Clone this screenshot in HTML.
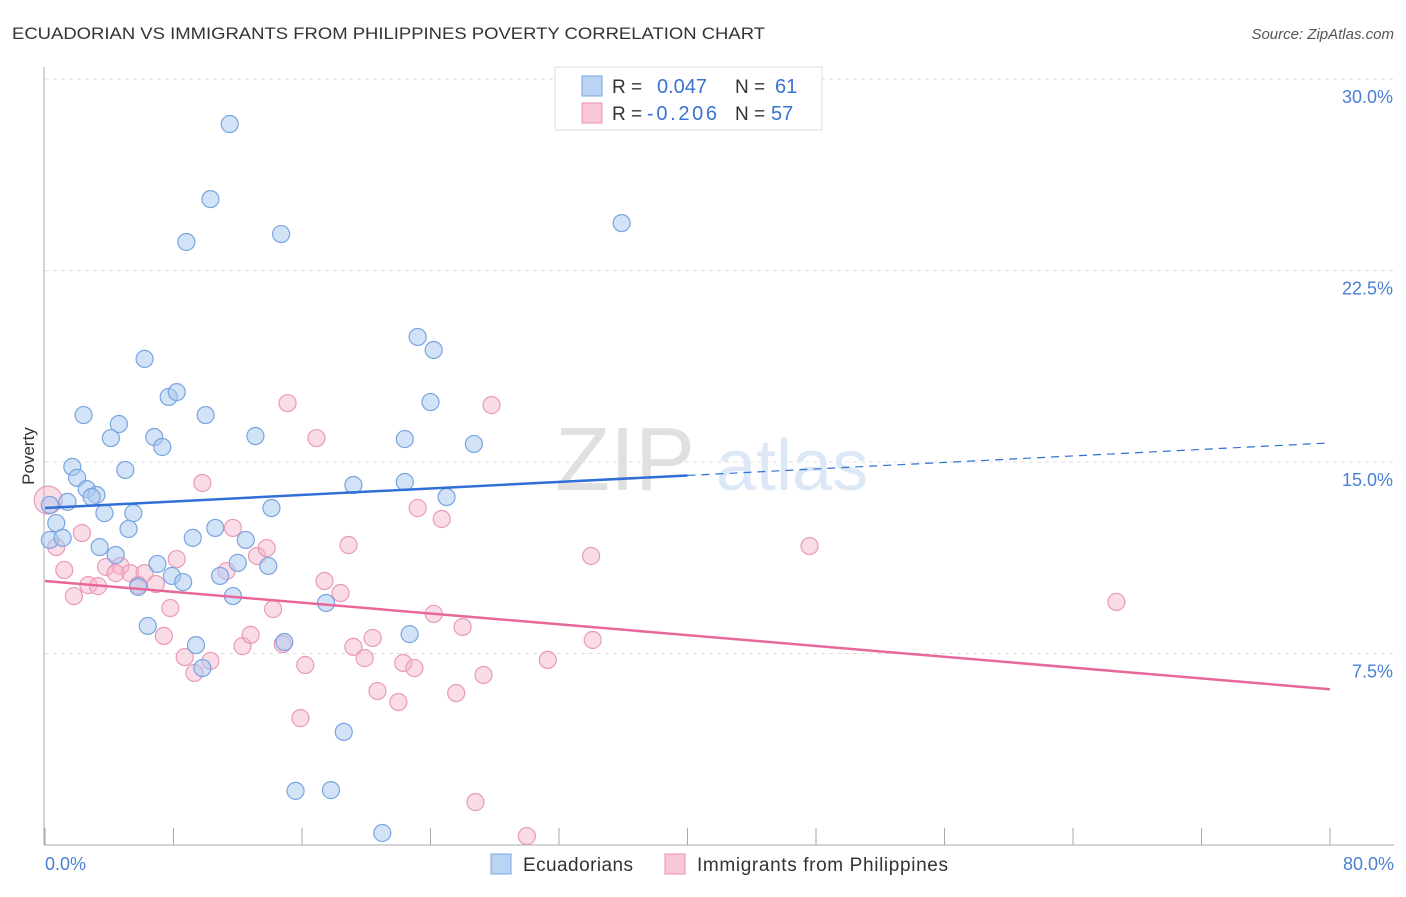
<!DOCTYPE html>
<html><head><meta charset="utf-8"><style>
body{margin:0;background:#fff;font-family:"Liberation Sans",sans-serif;}
svg text{font-family:"Liberation Sans",sans-serif;}
</style></head><body>
<svg id="chart" width="1406" height="892" xmlns="http://www.w3.org/2000/svg">
<text x="12" y="39" font-size="17" fill="#333" textLength="753" lengthAdjust="spacingAndGlyphs">ECUADORIAN VS IMMIGRANTS FROM PHILIPPINES POVERTY CORRELATION CHART</text>
<text x="1394" y="39" font-size="15" fill="#555" text-anchor="end" font-style="italic">Source: ZipAtlas.com</text>
<g id="grid"></g>
<g id="axes"></g>
<text x="555" y="490" font-size="90" fill="#e0e0e0" font-family="Liberation Serif">ZIP</text>
<text x="716" y="490" font-size="72" fill="#dde8f6">atlas</text>
<g id="pinkPts"></g>
<g id="bluePts"></g>
<g id="trends"></g>
<text x="34" y="456" font-size="17" fill="#333" text-anchor="middle" transform="rotate(-90 34 456)">Poverty</text>
<text x="45" y="870" font-size="18" fill="#4a7fd4">0.0%</text>
<text x="1394" y="870" font-size="18" fill="#4a7fd4" text-anchor="end">80.0%</text>
<g>
<rect x="555" y="67" width="267" height="63" fill="#fff" stroke="#ddd"/>
<rect x="582" y="76" width="20" height="20" fill="#bcd4f4" stroke="#7aa6e0"/>
<rect x="582" y="103" width="20" height="20" fill="#f8c8d8" stroke="#e890b0"/>
<text x="612" y="93" font-size="19" fill="#333">R = </text><text x="657" y="93" font-size="20" fill="#3a73d0">0.047</text>
<text x="735" y="93" font-size="19" fill="#333">N = </text><text x="775" y="93" font-size="20" fill="#3a73d0">61</text>
<text x="612" y="120" font-size="19" fill="#333">R = </text><text x="647" y="120" font-size="20" fill="#3a73d0" textLength="70">-0.206</text>
<text x="735" y="120" font-size="19" fill="#333">N = </text><text x="771" y="120" font-size="20" fill="#3a73d0">57</text>
</g>
<g>
<rect x="491" y="854" width="20" height="20" fill="#bcd4f4" stroke="#7aa6e0"/>
<text x="523" y="871" font-size="19" fill="#333" textLength="110">Ecuadorians</text>
<rect x="665" y="854" width="20" height="20" fill="#f8c8d8" stroke="#e890b0"/>
<text x="697" y="871" font-size="19" fill="#333" textLength="251">Immigrants from Philippines</text>
</g>
</svg>
<script>
const yTicks=[7.5,15,22.5,30];
const yTickLabels=["7.5%","15.0%","22.5%","30.0%"];
const xTicks=[0,8,16,24,32,40,48,56,64,72,80];
const blueX=[11.5,10.3,8.8,14.7,35.9,23.2,24.2,6.2,7.7,8.2,2.4,10.0,24.0,4.6,4.1,6.8,7.3,13.1,22.4,26.7,1.7,5.0,2.0,2.6,3.2,2.9,1.4,0.7,3.7,5.5,14.1,19.2,22.4,25.0,5.2,10.6,0.3,1.1,3.4,4.4,9.2,12.5,7.0,12.0,13.9,7.9,8.6,10.9,5.8,11.7,17.5,6.4,9.4,14.9,22.7,9.8,18.6,15.6,17.8,21.0,0.3];
const blueY=[28.24,25.30,23.62,23.93,24.36,19.90,19.39,19.04,17.55,17.74,16.84,16.84,17.35,16.49,15.94,15.98,15.59,16.02,15.90,15.71,14.81,14.69,14.38,13.94,13.71,13.63,13.44,12.61,13.00,13.00,13.20,14.10,14.22,13.63,12.38,12.42,11.95,12.03,11.67,11.36,12.03,11.95,11.01,11.05,10.93,10.54,10.30,10.54,10.11,9.75,9.48,8.58,7.83,7.95,8.26,6.93,4.43,2.12,2.15,0.47,13.32];
const pinkX=[0.2,0.7,1.2,2.3,1.8,2.7,3.3,3.8,4.7,4.4,5.3,6.2,6.9,5.8,7.8,7.4,8.2,9.8,8.7,9.3,10.3,11.3,11.7,13.2,13.8,12.3,12.8,14.2,14.8,15.1,16.9,15.9,16.2,17.4,18.4,18.9,19.2,19.9,20.4,20.7,22.0,22.3,23.0,23.2,24.7,24.2,26.0,25.6,27.3,26.8,27.8,30.0,31.3,34.0,34.1,47.6,66.7];
const pinkY=[13.51,11.67,10.77,12.22,9.75,10.18,10.14,10.89,10.93,10.65,10.65,10.65,10.22,10.18,9.28,8.19,11.20,14.18,7.36,6.74,7.21,10.73,12.42,11.32,11.63,7.79,8.23,9.24,7.87,17.31,15.94,4.97,7.05,10.34,9.87,11.75,7.76,7.32,8.11,6.03,5.60,7.13,6.93,13.20,12.77,9.05,8.54,5.95,6.66,1.68,17.23,0.35,7.25,11.32,8.03,11.71,9.52];
const blueTrend=[13.20,15.75];
const pinkTrend=[10.34,6.10];
const NS="http://www.w3.org/2000/svg";
const sx=v=>45+v*(1285/80);
const sy=v=>845-v*25.53;
function mk(tag,parent,attrs){const e=document.createElementNS(NS,tag);for(const k in attrs)e.setAttribute(k,attrs[k]);document.getElementById(parent).appendChild(e);return e;}
yTicks.forEach((t,i)=>{
 const g=mk('line','grid',{x1:45,x2:1394,y1:sy(t),y2:sy(t),stroke:'#ddd','stroke-dasharray':'4,4'});
 
 
 const l=mk('text','grid',{x:1393,y:sy(t)+24,'font-size':18,fill:'#4a7fd4','text-anchor':'end'});
 l.textContent=yTickLabels[i];
 
 
});
const ax=mk('line','axes',{x1:44,x2:44,y1:67,y2:845,stroke:'#aaa'});


const bx=mk('line','axes',{x1:44,x2:1394,y1:845,y2:845,stroke:'#aaa'});


xTicks.forEach(t=>{
 const k=mk('line','axes',{x1:sx(t),x2:sx(t),y1:828,y2:845,stroke:'#aaa'});
 
 
});
pinkX.forEach((x,i)=>{
 const c=mk('circle','pinkPts',{cx:sx(x),cy:sy(pinkY[i]),r:i===0?14:8.5,fill:'rgba(244,178,200,0.45)',stroke:'#e99ab8','stroke-width':1.2});
 
 
});
blueX.forEach((x,i)=>{
 const c=mk('circle','bluePts',{cx:sx(x),cy:sy(blueY[i]),r:8.5,fill:'rgba(168,200,240,0.5)',stroke:'#78a4e0','stroke-width':1.2});
 
 
});
const bt=v=>blueTrend[0]+(blueTrend[1]-blueTrend[0])*v/80;
const b1=mk('line','trends',{x1:sx(0),y1:sy(bt(0)),x2:sx(40),y2:sy(bt(40)),stroke:'#2f6fd6','stroke-width':2.5});


const b2=mk('line','trends',{x1:sx(40),y1:sy(bt(40)),x2:sx(80),y2:sy(bt(80)),stroke:'#2f6fd6','stroke-width':1.2,'stroke-dasharray':'8,6'});


const p1=mk('line','trends',{x1:sx(0),y1:sy(pinkTrend[0]),x2:sx(80),y2:sy(pinkTrend[1]),stroke:'#e8679a','stroke-width':2.5});


</script>
</body></html>
